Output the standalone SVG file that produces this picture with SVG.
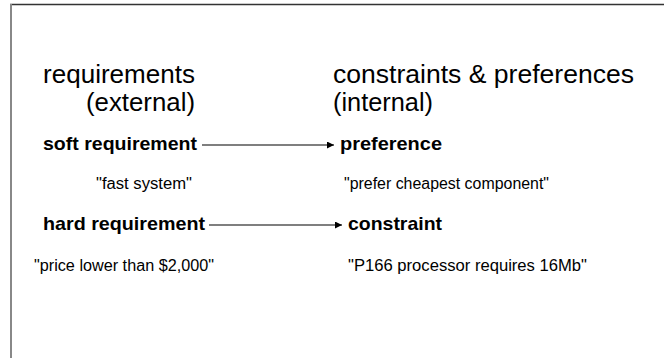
<svg xmlns="http://www.w3.org/2000/svg" width="664" height="358" viewBox="0 0 664 358">
<style>
text{font-family:"Liberation Sans",Arial,sans-serif;fill:#000}
.h{font-size:25px}
.b{font-size:19px;font-weight:bold}
.q{font-size:16px}
.conn{stroke:#555;stroke-width:1.5;fill:none}
</style>
<defs>
<marker id="ah" viewBox="0 0 10 10" refX="10" refY="5" markerWidth="10" markerHeight="7" markerUnits="userSpaceOnUse" orient="auto">
<path d="M0,0 L10,5 L0,10 z" fill="#000"/>
</marker>
</defs>
<rect width="664" height="358" fill="#fff"/>
<line x1="10" y1="4.5" x2="664" y2="4.5" stroke="#333" stroke-width="1.5"/>
<line x1="11" y1="4" x2="11" y2="358" stroke="#888" stroke-width="2"/>
<g id="heading-left">
<text class="h" x="43" y="83" textLength="152" lengthAdjust="spacingAndGlyphs">requirements</text>
<text class="h" x="86" y="111" textLength="109" lengthAdjust="spacingAndGlyphs">(external)</text>
</g>
<g id="heading-right">
<text class="h" x="333" y="83" textLength="301" lengthAdjust="spacingAndGlyphs">constraints &amp; preferences</text>
<text class="h" x="333" y="111" textLength="100" lengthAdjust="spacingAndGlyphs">(internal)</text>
</g>
<g id="soft-requirement">
<text class="b" x="43" y="150" textLength="154" lengthAdjust="spacingAndGlyphs">soft requirement</text>
<text class="q" x="96" y="189" textLength="96" lengthAdjust="spacingAndGlyphs">"fast system"</text>
</g>
<g id="preference">
<text class="b" x="340" y="150" textLength="102" lengthAdjust="spacingAndGlyphs">preference</text>
<text class="q" x="344" y="189" textLength="205" lengthAdjust="spacingAndGlyphs">"prefer cheapest component"</text>
</g>
<g id="hard-requirement">
<text class="b" x="43" y="230" textLength="162" lengthAdjust="spacingAndGlyphs">hard requirement</text>
<text class="q" x="34" y="271" textLength="180" lengthAdjust="spacingAndGlyphs">"price lower than $2,000"</text>
</g>
<g id="constraint">
<text class="b" x="348" y="230" textLength="94" lengthAdjust="spacingAndGlyphs">constraint</text>
<text class="q" x="348" y="271" textLength="239" lengthAdjust="spacingAndGlyphs">"P166 processor requires 16Mb"</text>
</g>
<g id="connectors">
<line class="conn" x1="202" y1="145" x2="334" y2="145" marker-end="url(#ah)"/>
<line class="conn" x1="209" y1="225" x2="342" y2="225" marker-end="url(#ah)"/>
</g>
</svg>
